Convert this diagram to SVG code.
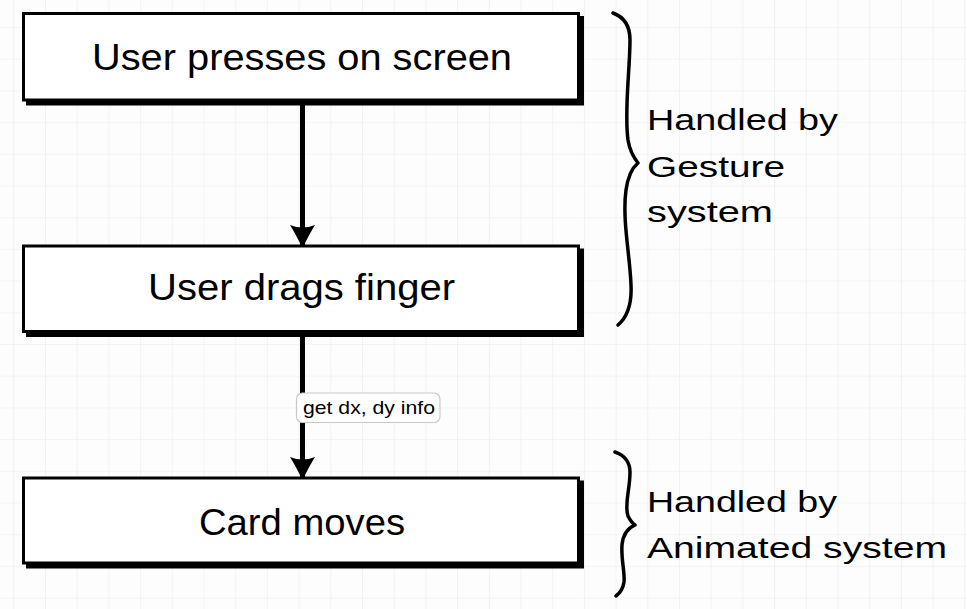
<svg xmlns="http://www.w3.org/2000/svg" width="967" height="609" viewBox="0 0 967 609">
<style>
.box{fill:#fff;stroke:#000;stroke-width:3}
.shadow{fill:#000;stroke:#000;stroke-width:3}
.t{font-family:"Liberation Sans",Arial,sans-serif;fill:#000}
.big{font-size:37px}
.side{font-size:30px}
.lbl{font-size:19px}
.conn{stroke:#000;stroke-width:5;fill:none}
.brace{stroke:#000;stroke-width:3.5;fill:none;stroke-linecap:round;stroke-linejoin:round}
</style>
<defs>
<pattern id="grid" patternUnits="userSpaceOnUse" x="13.3" y="27" width="31.7" height="31.7">
<path d="M0,0 H31.7 M0,0 V31.7" stroke="#ebebeb" stroke-width="1.2" fill="none"/>
</pattern>
<marker id="ah" markerUnits="userSpaceOnUse" markerWidth="26" markerHeight="28" refX="22" refY="13" orient="auto">
<path d="M0,0.5 Q7,5 23,13 Q7,21 0,25.5 Q5,13 0,0.5 Z" fill="#000"/>
</marker>
</defs>
<rect width="967" height="609" fill="#fdfdfd"/>
<rect width="967" height="609" fill="url(#grid)"/>

<g id="connectors">
<line class="conn" x1="302.5" y1="104" x2="302.5" y2="247" marker-end="url(#ah)"/>
<line class="conn" x1="302.5" y1="336" x2="302.5" y2="479" marker-end="url(#ah)"/>
<g id="conn-label">
<rect x="296.5" y="393" width="143.5" height="29.5" rx="6" fill="#fff" stroke="#c8c8c8" stroke-width="1.2"/>
<text class="t lbl" x="303" y="414" textLength="132" lengthAdjust="spacingAndGlyphs">get dx, dy info</text>
</g>
</g>

<g id="node-press">
<rect class="shadow" x="27.5" y="17.5" width="555" height="86.5"/>
<rect class="box" x="23.5" y="13.5" width="555" height="86.5"/>
<text class="t big" x="92" y="70" textLength="420" lengthAdjust="spacingAndGlyphs">User presses on screen</text>
</g>

<g id="node-drag">
<rect class="shadow" x="27.5" y="250" width="555" height="85.5"/>
<rect class="box" x="23.5" y="246" width="555" height="85.5"/>
<text class="t big" x="148" y="300" textLength="307" lengthAdjust="spacingAndGlyphs">User drags finger</text>
</g>

<g id="node-card">
<rect class="shadow" x="27.5" y="482" width="555" height="85"/>
<rect class="box" x="23.5" y="478" width="555" height="85"/>
<text class="t big" x="199" y="535" textLength="206" lengthAdjust="spacingAndGlyphs">Card moves</text>
</g>

<g id="brace-gesture">
<path class="brace" d="M613,13 C624,17 630,26 630,40 C630,70 624,110 628,140 C630,152 634,158 638,163 C632,168 628,176 626,190 C622,220 630,255 631,285 C632,305 626,318 618,325"/>
<text class="t side" x="647" y="130" textLength="191" lengthAdjust="spacingAndGlyphs">Handled by</text>
<text class="t side" x="647" y="177" textLength="138" lengthAdjust="spacingAndGlyphs">Gesture</text>
<text class="t side" x="647" y="222" textLength="126" lengthAdjust="spacingAndGlyphs">system</text>
</g>

<g id="brace-animated">
<path class="brace" d="M615,452 C624,455 630,462 630,472 C630,490 624,505 628,516 C630,520 632,523 635,525 C628,528 623,534 622,545 C621,560 625,572 624,582 C623,589 620,593 616,596"/>
<text class="t side" x="647" y="512" textLength="190" lengthAdjust="spacingAndGlyphs">Handled by</text>
<text class="t side" x="647" y="558" textLength="300" lengthAdjust="spacingAndGlyphs">Animated system</text>
</g>
</svg>
